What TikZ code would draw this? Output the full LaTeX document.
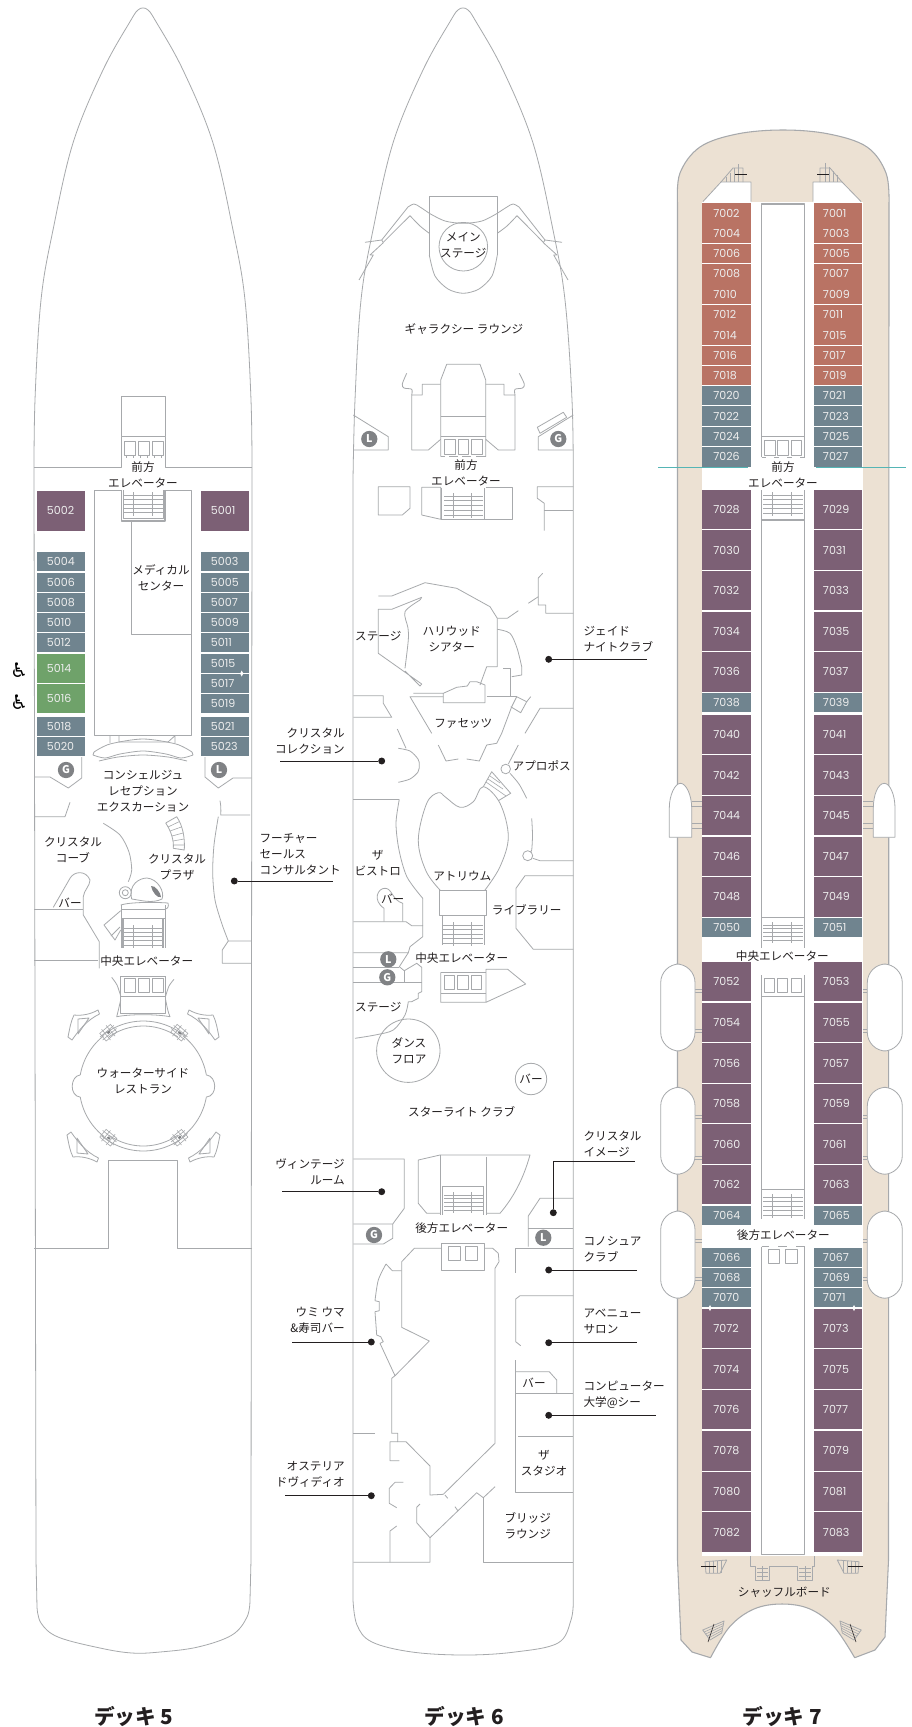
\documentclass[tikz,border=0pt]{standalone}
\usepackage{fontspec}
\setmainfont{Noto Sans CJK JP}
\newfontfamily\numf{Poppins}
\newfontfamily\dvf{DejaVu Sans}
\usetikzlibrary{calc}
\definecolor{wallg}{HTML}{A7A9AC}
\definecolor{ink}{HTML}{231F20}
\definecolor{cpurple}{HTML}{7C6075}
\definecolor{cblue}{HTML}{70848F}
\definecolor{cred}{HTML}{B97364}
\definecolor{cgreen}{HTML}{6FA26A}
\definecolor{beige}{HTML}{ECE1D3}
\definecolor{teal7}{HTML}{55B5B5}
\definecolor{iconm}{HTML}{808285}
\definecolor{cabtxt}{HTML}{EDEDED}
\tikzset{
 wall/.style={draw=wallg,line width=.6pt,line join=round},
 wallk/.style={draw=wallg,line width=1pt,line join=round},
 thinw/.style={draw=wallg,line width=.45pt},
 lab/.style={font=\fontsize{8.7}{12}\selectfont,text=ink,align=center,inner sep=0pt},
 labl/.style={lab,anchor=west,align=left},
 labr/.style={lab,anchor=east,align=right},
 ttl/.style={font=\fontsize{15.5}{18}\selectfont\bfseries,text=ink,inner sep=0pt},
 cabn/.style={font=\fontsize{8.3}{10}\numf\selectfont,text=cabtxt,anchor=west,inner sep=0pt},
 dotn/.style={circle,fill=ink,minimum size=5.2pt,inner sep=0pt},
 leader/.style={draw=ink,line width=.7pt},
 iconc/.style={circle,fill=iconm,minimum size=12.2pt,inner sep=0pt,text=white,font=\fontsize{8}{8}\selectfont\bfseries},
}
% cabin: number, x1, x2, y1, y2, colour, inner edge x, notch position, notch direction
\newcommand{\cabin}[9]{%
 \fill[#6] (#2,#4) rectangle (#3,#5);
 \ifx#8t\fill[white] (#7,#4) rectangle ({#7+(#9)*2.2},{#4+7});\fi
 \ifx#8b\fill[white] (#7,{#5-7}) rectangle ({#7+(#9)*2.2},#5);\fi
 \ifx#8c\fill[white] (#7,{(#4+#5)/2-4.5}) rectangle ({#7+(#9)*2.2},{(#4+#5)/2+4.5});\fi
}
\newcommand{\stairset}[6]{% xl xr y1 y2 vx1 vx2
 \foreach \i in {0,...,4}{\draw[thinw] (#1,{#3+\i*(#4-#3)/4}) -- (#2,{#3+\i*(#4-#3)/4});}
 \draw[wall] (#5,{#3-3}) -- (#5,{#4+3});
 \draw[wall] (#6,{#3-3}) -- (#6,{#4+3});
}
\newcommand{\triarm}{%
 \draw[wall] (0,0) .. controls (8,1) and (17,-1) .. (24,-5) -- (25.5,-1) .. controls (13,5) and (5,15) .. (-2,25) -- (-6,22) .. controls (-4,12) and (-3,6) .. (0,0) -- cycle;
 \draw[wall] (4,4) -- (15,3) -- (4,19) -- cycle;
}
\newcommand{\rstair}[3]{%
 \begin{scope}[shift={(#1,#2)},rotate=#3]
 \draw[thinw] (-7,-5) rectangle (7,5);
 \draw[thinw] (-9,-2) -- (9,-2) (-9,2) -- (9,2) (-3,-7) -- (-3,7) (3,-7) -- (3,7);
 \fill[iconm] (-1,-1) rectangle (2,1);
 \end{scope}
}
\newcommand{\tender}[4]{\draw[wall,fill=white,rounded corners=14pt] (#1,#3) rectangle (#2,#4);}
\begin{document}
\begin{tikzpicture}[x=.75pt,y=-.75pt]
\useasboundingbox (0,0) rectangle (912,1727);
\fill[white] (0,0) rectangle (912,1727);

%%%%%%% DECK 5 hull
\draw[wall] plot[smooth,tension=.6] coordinates{(34,480)(35,400)(41,300)(53,230)(73,143)(103,70)(131,20)(138,10)(143,8)(148,10)(155,20)(183,70)(213,143)(233,230)(245,300)(251,400)(252,480)}
 -- (251,1560) -- plot[smooth,tension=.6] coordinates{(250,1600)(247,1617)(232,1635)(198,1647)(160,1652)(132,1653)(100,1648)(58,1637)(41,1623)(37,1607)}
 -- (36,1560) -- cycle;
% fore
\draw[wall] (121.7,396) rectangle (165,436.7);
\draw[wall] (121.7,436.7) -- (121.7,458) (165,436.7) -- (165,458);
\foreach \x in {124,138,152}{\draw[wall] (\x,441) rectangle ++(11,14.7);\draw[wall] (\x+2,455.7) -- ++(0,2.5) (\x+9,455.7) -- ++(0,2.5);}
\draw[wall] (34,467.7) -- (121.7,467.7) -- (121.7,458);
\draw[wall] (252,467.7) -- (165,467.7) -- (165,458);
\draw[wall] (94.3,735.7) -- (94.3,490.3) -- (191.7,490.3) -- (191.7,735.7) -- cycle;
\fill[white] (121,490) rectangle (166,521);
\draw[wallk] (121.7,490.3) -- (121.7,521) -- (165,521) -- (165,490.3);
\draw[wall] (123.5,490.3) -- (123.5,518.5) -- (163.2,518.5) -- (163.2,490.3);
\stairset{124}{163}{495}{512.7}{133.3}{152}
\draw[wall] (131.7,521) -- (131.7,634.3) -- (191.7,634.3);
% concierge
\draw[wall] (110,735.7) -- (110,743) (119,735.7) -- (119,742) -- (168,742) -- (175,735.7) (175,735.7) -- (175,743);
\draw[wall] plot[smooth] coordinates{(94,752)(110,744)(143,739)(176,744)(192,752)};
\draw[wall] plot[smooth] coordinates{(93,755)(105,758)(120,754)(143,751)(166,754)(181,758)(193,755)};
\draw[wall] plot[smooth] coordinates{(99,761)(118,757)(143,755)(168,757)(187,761)};
\draw[wall] (93,755) -- (94,752) (193,755) -- (192,752);
% pockets
\draw[wall] (81.7,757) -- (81.7,778) -- (68.3,788) -- (50,777) -- (34,777);
\draw[wall] (205,757) -- (205,777) -- (218.3,788) -- (233,778) -- (251.7,778);
\node[iconc] (g5) at (66,770) {G};
\node[iconc] (l5) at (219,770) {L};
\draw[wall] (34,816.7) -- (65,816.7) -- (70,802.3);
\draw[wall] (220,800.7) .. controls (221,806) and (221,810) .. (220.7,815) -- (250,815);
\draw[wall] plot[smooth] coordinates{(103.3,823.3)(120,835)(129,852)(131.7,870)(128.3,881.7)};
% spiral stairs
\draw[wall] (165.7,823) -- (176.7,816.7) .. controls (183,826) and (185,838) .. (184.3,850) -- (173.3,848.3) .. controls (174,840) and (171,831) .. (165.7,823);
\draw[thinw] (168,827) -- (179.5,821.5) (170,831) -- (181.3,827) (172,836) -- (183,833) (173,841) -- (184,839) (173.5,845) -- (184.3,845);
% bar 5
\draw[wall] (53.3,907.3) -- (70,878.3) .. controls (74,871) and (86,870) .. (90,880) .. controls (90,886) and (84,890) .. (83.3,896.7) -- (83.3,915) -- (99.3,941.7) -- (99.3,968.3);
\draw[wall] (34,909.3) -- (83.3,909.3);
\draw[wall] (34,960.7) -- (98.3,960.7);
% atrium capsule
\draw[wall] (131.7,899) .. controls (128,884) and (140,878) .. (147,878) .. controls (158,879) and (165,892) .. (162,899) .. controls (152,904) and (140,900) .. (131.7,899);
\fill[iconm] (151,886) .. controls (155,885) and (161,893) .. (161,897) .. controls (158,899) and (152,892) .. (151,886);
\draw[wall] (125.3,892.7) circle[radius=6];
\draw[wall] (125.3,892.7) circle[radius=3];
\draw[wall] (120.7,905) .. controls (130,902) and (155,902) .. (168,903) .. controls (169,906) and (168,909) .. (165,909);
\draw[wall] (121,909) -- (165,909);
\draw[wall] (121,905) -- (121,918.3) (165,905) -- (165,918.3);
\draw[wallk] (121,918.3) -- (165,918.3);
\draw[wallk] (123,918.3) -- (123,948.3) (163,918.3) -- (163,948.3);
\draw[wall] (121,918.3) -- (121,948.3) (165,918.3) -- (165,948.3);
\stairset{124}{162}{928}{945}{133.3}{152.3}
\draw[wall] (120.7,910.7) -- (104,925) -- (115,940) -- (120.7,930);
\draw[wall] (111,936) -- (120,927);
% lower lifts deck 5
\draw[wall] (120.7,976) -- (165.7,976) (120.7,976) -- (120.7,1013.3) -- (165.7,1013.3) -- (165.7,976);
\foreach \x in {124,138,152}{\draw[wall] (\x,978.3) rectangle ++(11,14.4);}
\draw[wallk] (120.7,996.7) -- (165.7,996.7);
\draw[wall] plot[smooth] coordinates{(111.7,977.3)(117,985)(120.7,996)};
\draw[wall] plot[smooth] coordinates{(174,979.3)(169,986)(165.7,996)};
\draw[wall] (120.7,1000) .. controls (119,1007) and (118,1012) .. (116.7,1016.7) .. controls (130,1014) and (156,1014) .. (170,1016.7) .. controls (168,1012) and (167,1007) .. (165.7,1000);
% future sales
\draw[wall] plot[smooth] coordinates{(218.3,816.7)(214,845)(212.7,873.3)(215,900)(221.7,923.3)(228.3,941)};
\draw[wall] (251.7,941) -- (228.3,941) -- (222.3,950) -- (222.3,963.3) -- (251.7,963.3);
% restaurant
\newcommand{\arcp}[5]{plot[smooth,samples=24,domain=#4:#5] ({#1+#3*cos(\x)},{#2-#3*sin(\x)})}
\draw[wall] \arcp{143.3}{1086}{65}{130}{50};
\draw[wall] \arcp{143.3}{1086}{60}{125}{55};
\draw[wall] \arcp{143.3}{1086}{65}{230}{310};
\draw[wall] \arcp{143.3}{1086}{60}{235}{305};
\draw[wall] \arcp{143.3}{1086}{64}{128}{170};
\draw[wall] \arcp{143.3}{1086}{64}{190}{232};
\draw[wall] \arcp{143.3}{1086}{64}{52}{10};
\draw[wall] \arcp{143.3}{1086}{64}{-10}{-52};
\draw[wall] (80.3,1074.9) .. controls (70,1076) and (69,1096) .. (80.3,1097.1);
\draw[wall] (206.3,1074.9) .. controls (217,1076) and (218,1096) .. (206.3,1097.1);
\rstair{108.3}{1032.7}{40}
\rstair{179.3}{1032.7}{-40}
\rstair{108.3}{1137.7}{-40}
\rstair{179.3}{1137.7}{40}
\begin{scope}[shift={(74,1015)}]\triarm\end{scope}
\begin{scope}[shift={(213,1015)},xscale=-1]\triarm\end{scope}
\begin{scope}[shift={(73,1157)},yscale=-1]\triarm\end{scope}
\begin{scope}[shift={(214,1157)},xscale=-1,yscale=-1]\triarm\end{scope}
\draw[wall] (34,1248.3) -- (108.3,1248.3) -- (108.3,1160) -- (177.3,1160) -- (177.3,1248.3) -- (252,1248.3);

% deck 5 cabins
\foreach \n/\a/\b/\c/\p in {5002/491/530.7/cpurple/c,5004/552.3/571.3/cblue/t,5006/572.7/591.7/cblue/b,5008/592.7/611.7/cblue/t,5010/612.7/632.3/cblue/b,5012/633/652.3/cblue/t,5014/654/682.7/cgreen/t,5016/684/712.7/cgreen/n,5018/716.7/736/cblue/t,5020/737/756/cblue/b}{
 \cabin{\n}{37}{85}{\a}{\b}{\c}{85}{\p}{-1}
 \node[cabn] (c\n) at (46.7,{(\a+\b)/2}) {\n};}
\foreach \n/\a/\b/\c/\p in {5001/491/530.7/cpurple/c,5003/552.3/571.3/cblue/t,5005/572.7/591.7/cblue/b,5007/592.7/611.7/cblue/t,5009/612.7/632.3/cblue/b,5011/633/652.3/cblue/n,5015/654/673.3/cblue/t,5017/674/693.3/cblue/n,5019/694.3/713.3/cblue/n,5021/716.7/736/cblue/n,5023/737/756/cblue/n}{
 \cabin{\n}{201}{249.3}{\a}{\b}{\c}{201}{\p}{1}
 \node[cabn] (c\n) at (210.7,{(\a+\b)/2}) {\n};}
\fill[white] (241.7,670.5) -- (243.3,673.5) -- (241.7,676.5) -- (240.1,673.5) -- cycle;
\node[font=\fontsize{15}{15}\dvf\selectfont,text=black,inner sep=0pt] (w1) at (19,670) {♿};
\node[font=\fontsize{15}{15}\dvf\selectfont,text=black,inner sep=0pt] (w2) at (19,702) {♿};

% deck 5 labels
\node[lab] (a1) at (143,475) {前方\\エレベーター};
\node[lab] (a2) at (161,578) {メディカル\\センター};
\node[lab] (a3) at (143,791) {コンシェルジュ\\レセプション\\エクスカーション};
\node[lab] (a4) at (73,849.5) {クリスタル\\コーブ};
\node[lab] (a5) at (177,867) {クリスタル\\プラザ};
\node[lab] (a6) at (70,902.7) {バー};
\node[lab] (a7) at (146.7,961) {中央エレベーター};
\node[lab] (a8) at (143,1081) {ウォーターサイド\\レストラン};
\node[labl] (a9) at (259.3,854.3) {フーチャー\\セールス\\コンサルタント};
\node[dotn] (d1) at (234.3,881) {};
\coordinate (e1) at (333.3,881);
\draw[leader] (d1) -- (e1);

%%%%%%% DECK 6 hull
\draw[wall] plot[smooth,tension=.6] coordinates{(353,480)(355,400)(361,300)(373,230)(393,143)(423,70)(451,20)(458,10)(463,8)(468,10)(475,20)(503,70)(533,143)(553,230)(565,300)(572,400)(573.3,480)}
 -- plot[smooth,tension=.6] coordinates{(573.3,1600)(571,1620)(558,1643)(515,1652)(465,1655)(412,1652)(372,1642)(357,1625)(353,1600)} -- cycle;
% main stage
\draw[wall] (429.3,255) -- (429.3,196) -- (497.3,196) -- (497.3,255);
\draw[wall] plot[smooth] coordinates{(429.3,255)(435,276)(448,289)(463.3,293.3)(479,289)(492,276)(497.3,255)};
\draw[wall] plot[smooth] coordinates{(429.3,213.3)(445,221)(463.3,223.3)(482,221)(497.3,213.3)};
\draw[wall] (463.3,246.7) circle[radius=24.3];
\draw[wall] plot[smooth] coordinates{(429.3,213.3)(420,207)(414,204)(408,207)} -- (381.7,240) -- (365,242.3);
\draw[wall] (381.7,240) -- (383.3,242.7) -- (370,255) -- (373.3,255) -- (359,280);
\draw[wall] plot[smooth] coordinates{(429.3,233.3)(420,226)(410,215.7)} -- (383.3,242.3);
\draw[wall] plot[smooth] coordinates{(497.3,213.3)(507,207)(513,204)(519,207)} -- (545,240) -- (562,242.3);
\draw[wall] (545,240) -- (543.3,242.7) -- (557,255) -- (553.7,255) -- (568,280);
\draw[wall] plot[smooth] coordinates{(497.3,233.3)(507,226)(517,215.7)} -- (543.3,242.3);
% fore block 6
\draw[wall] (440.7,456.7) -- (440.7,380) -- (446.7,364.3) -- (480,364.3) -- (485.7,380) -- (485.7,456.7);
\draw[wall] (440.7,416.7) -- (485.7,416.7);
\draw[wall] (440.7,436.7) -- (485.7,436.7);
\foreach \x in {444.3,458,471.5}{\draw[wall] (\x,439.3) rectangle ++(10.7,14.7);}
\draw[wall] (440.7,456.7) -- (445,456.7) (449,456.7) -- (458,456.7) (462,456.7) -- (471,456.7) (476,456.7) -- (485.7,456.7);
\draw[wall] (440.7,384.3) -- (422.3,384.3) -- (422.3,395) -- (411.7,395) -- (411.7,450) -- (428.3,450) -- (440.7,439.3);
\draw[wall] plot[smooth] coordinates{(411.7,395)(411.7,389.3)(404,388)(402.3,384)(406.7,373.3)};
\draw[wall] (485.7,384.3) -- (504,384.3) -- (504,395) -- (515,395) -- (515,450) -- (498.3,450) -- (485.7,439.3);
\draw[wall] plot[smooth] coordinates{(515,395)(515,389.3)(522.5,388)(524.3,384)(519.3,373.3)};
\draw[wall] (353.3,415) -- (388.3,436.7) -- (388.3,450) -- (353.3,450);
\draw[wall] (573.3,415) -- (538.3,436.7) -- (538.3,450) -- (573.3,450);
\draw[wall] (537.3,427.3) -- (563.3,412.3) -- (566.7,417.3) -- (540,433.3) -- cycle;
\node[iconc] (l6a) at (369.3,439) {L};
\node[iconc] (g6a) at (558.3,439) {G};
% fore stairs 6
\draw[wall] (421.7,487.3) -- (440.7,487.3) -- (440.7,519.3) -- (421.7,515) -- cycle;
\draw[wall] (485.7,487.3) -- (512.7,487.3) -- (512.7,519.3) -- (485.7,519.3);
\draw[wallk] (440.7,519.3) -- (485.7,519.3);
\draw[wall] (441.7,488.3) -- (441.7,519) (484.7,488.3) -- (484.7,519);
\stairset{444}{483}{496}{515}{453.3}{471.7}
\draw[wall] (378.3,486.7) -- (410,486.7) -- (410,508.3) -- (402.3,515) -- (378.3,515) -- cycle;
\draw[wall] (573.3,486.7) -- (537.3,486.7) -- (537.3,498.3) -- (544.3,503.3) -- (544.3,530.7);
\draw[wall] (544.3,510.7) -- (573.3,510.7);
% theater
\draw[wall] (378.3,596) -- (391.7,596) -- (425,582.7) -- (456.7,588.3) -- (490,606.7) -- (497.3,618.3) -- (497.3,666.7) -- (486.7,666.7) -- (480,685);
\draw[wall] (421.7,597.3) -- (391.7,609.3) -- (378.3,609.3) -- (378.3,653.3) -- (421.7,684) -- (420,686) -- (405,671);
\draw[wall] (421.7,597.3) -- (420,600);
\draw[wall] plot[smooth] coordinates{(420,600)(405,611.7)(408,628)(408.3,640)(405,668.3)};
\draw[wall] (497.3,618.3) -- (507.3,618.3) -- (518.3,610.7);
\draw[wall] (528.3,603.3) -- (538.3,596.7);
\draw[wall] (542.7,573.3) -- (538.3,578) -- (538.3,605) -- (545.7,605) -- (545.7,613.3) -- (573.3,613.3);
\draw[wall] plot[smooth] coordinates{(497.3,629.3)(510,633.3)(517,648)(521.7,666.7)} -- (521.7,675) -- (511.7,676.7);
\draw[wall] (503.3,668.3) -- (510.7,668.3) -- (510.7,696.7);
\draw[wall] (486.7,696.7) -- (516.7,696.7);
\draw[wall] (413.3,693.3) -- (443.3,693.3) -- (456.7,687.3) -- (467.3,686) -- (470,681.7) -- (476.7,681.7) -- (485,685) -- (485,702.7) -- (443.3,702.7) -- (443.3,693.3);
\draw[wall] (443.3,696.7) -- (410,696.7) -- (431.7,733.3);
\draw[wall] (438.3,745) -- (446,761) -- (458.3,759);
\draw[wall] (466.7,759) -- (479.3,761) -- (486.7,745) -- (496.7,743.3) -- (501.7,733.3) -- (511.7,706.7) -- (516.7,696.7);
\draw[wall] (516.7,696.7) -- (526.7,701.7) -- (520.7,712.7) -- (510.7,706.7);
\draw[wall] (526.7,701.7) -- (530.7,696.7);
\draw[wall] (573.3,708.3) -- (540,708.3) -- (525,733.3);
\draw[wall] (353.3,695.7) -- (383.3,695.7) -- (383.3,703.3) -- (391.7,717.3) -- (353.3,717.3);
\draw[wall] (397.3,729) -- (406,748.3);
\draw[wall] plot[smooth] coordinates{(398.3,748.3)(410,751)(418,759)(419.3,765)(418,772)(410,779)(398.3,782.3)};
\draw[wall] (518.3,745) -- (508.3,764);
\draw[wall] (505.7,769) circle[radius=4.8];
\draw[wall] plot[smooth] coordinates{(510,773.3)(519,784)(526.7,798.3)};
\draw[wall] plot[smooth] coordinates{(531.7,818.3)(532.5,835)(531.7,850)(530,852)};
\draw[wall] (527.7,855.7) circle[radius=5];
\draw[wall] (532.7,858.3) -- (540,860.7) -- (573.3,860.7);
% atrium
\draw[wall] plot[smooth,tension=.6] coordinates{(440,890)(426,871)(418.3,840)(426.7,803.3)(438.3,792.7)(445.7,797.3)(460,807.3)(473.3,801.7)(483.3,786.7)(500,803.3)(508.3,836.7)(500,866.7)(485,890)};
\draw[wall] (483.3,786.7) -- (491.7,771.7) -- (510.7,793.3) -- (498.3,800.7);
\draw[thinw] (486,782) -- (506,796) (488,779) -- (503,789) (490,776) -- (500,783);
\draw[wall] (440,890) -- (485.5,890);
\draw[wall] (439.3,890) -- (439.3,915) -- (486,915) -- (486,890);
\draw[wall] (442,915) -- (442,945) (484,915) -- (484,945);
\stairset{443}{483}{925}{943}{453.3}{471.7}
% bistro
\draw[wall] (353.3,799.3) -- (399.3,799.3);
\draw[wall] plot[smooth] coordinates{(399.3,799.3)(396,823.3)(399,850)(407,877)(422.7,898.3)} -- (422.7,925.7) -- (411.7,925.7) -- (406,921.7) -- (353.3,921.7);
\draw[wall] (384,921.7) -- (384,908.3) .. controls (372,900) and (378,888) .. (385,888.3) .. controls (392,888) and (392,900) .. (402.7,903.3) -- (402.7,921.7);
\draw[wall] (422.7,925.7) -- (422.7,936.7) -- (410,946.7) -- (408.3,952.7) -- (353.3,952.7);
\draw[wall] (408.3,952.7) -- (399.3,966.7) -- (404.3,970.7) -- (416.7,963.3) -- (421.7,967.3) -- (421.7,991.7) -- (418.3,993.3) -- (418.3,998.3) -- (411.7,1001.7) -- (408.3,1001.7);
\draw[wall] (353.3,967.3) -- (399.3,967.3);
\draw[wall] (353.3,982.3) -- (421.7,982.3);
\draw[wall] (404.3,970.7) -- (404.3,982.3);
\node[iconc] (l6b) at (388.3,959.3) {L};
\node[iconc] (g6b) at (387.3,977.3) {G};
\draw[wall] plot[smooth] coordinates{(408.3,1001.7)(405,1015)(393.3,1030)(375,1035)(355,1038.3)};
\draw[wall] (408.3,1050.7) circle[radius=31.7];
\draw[wall] (531,1079) circle[radius=15.7];
% library
\draw[wall] (573.3,875.7) -- (525,875.7) -- (516,888.3) -- (516,928.3) -- (533.3,949.3) -- (573.3,949.3);
% centre lifts 6
\draw[wall] (440.7,972.3) -- (440.7,1002.3) -- (486,1002.3) -- (486,969.3) -- (507.7,969.3) -- (525.7,984) -- (486,1002.3);
\draw[wall] (440.7,972.3) -- (486,972.3);
\foreach \x in {444.3,457.7,471.3}{\draw[wall] (\x,975) rectangle ++(10.4,14.3);}
\draw[wall] (440.7,993.3) -- (486,993.3);
% aft stairs
\draw[wall] (440,1155) -- (530,1155) .. controls (523,1180) and (513,1198) .. (500,1213.3) -- (486.7,1213.3);
\draw[wall] (440,1155) -- (418.3,1160) -- (418.3,1203.3) -- (426.7,1213.3) -- (440,1213.3);
\draw[wall] (440,1155) -- (440,1215) (486.7,1156.7) -- (486.7,1215);
\draw[wall] (442,1186) -- (484,1186);
\draw[wall] (442.5,1186) -- (442.5,1215) (483.5,1186) -- (483.5,1215);
\stairset{444}{482.5}{1195}{1210}{453.3}{471.7}
% vintage
\draw[wall] (353.3,1159) -- (404.3,1159) -- (404.3,1208.3) -- (392.7,1224) -- (353.3,1224);
\draw[wall] (392.7,1224) -- (392.7,1238.3) -- (383.3,1244) -- (353.3,1244);
\node[iconc] (g6c) at (374,1235) {G};
% crystal image
\draw[wall] (573.3,1198.3) -- (540,1198.3) -- (528.3,1216) -- (528.3,1246.7);
\draw[wall] (528.3,1228.3) -- (573.3,1228.3);
\node[iconc] (l6c) at (543.3,1237.7) {L};
\draw[wall] (573.3,1248.3) -- (515.7,1248.3) -- (515.7,1273.3);
% aft block 6
\draw[wall] (441.7,1243.3) rectangle (484.3,1270.7);
\draw[wall] (448.3,1246) rectangle (460.7,1260) (465.7,1246) rectangle (477.7,1260);
\draw[wall] (441.7,1248.3) -- (414.3,1248.3) -- (401.7,1261.7) -- (401.7,1327.3) -- (429.3,1341) -- (395,1375.7);
\draw[wall] (401.7,1270.7) -- (392.3,1270.7) -- (386,1264);
\draw[wall] plot[smooth] coordinates{(386,1264)(378.3,1280)(375,1300.7)};
\draw[wall] (375,1300.7) -- (379.3,1301.7) -- (379.3,1310.7) -- (375,1311.7) -- (376.7,1335) -- (380.7,1336.7) -- (383.3,1341.7) -- (380,1343.3) -- (395,1375.7) -- (391.7,1378.3) -- (391.7,1433.3) -- (397.7,1433.3) -- (397.7,1441.7) -- (390,1441.7) -- (390,1460.7) -- (399.3,1460.7);
\draw[wall] (397.7,1441.7) -- (406,1441.7) -- (430,1466) -- (430,1495) -- (443.3,1494.3) -- (495,1443.3) -- (495,1268.3) -- (499,1261.7) -- (498.3,1253.3) -- (492.7,1248.3) -- (484.3,1248.3);
\draw[wall] (353.3,1433.3) -- (375,1433.3);
\draw[wall] (403.3,1482.3) -- (395,1482.3) -- (389.3,1488.3) -- (389.3,1503.3) -- (396.7,1507.7);
\draw[wall] (396.7,1526) -- (390,1531) -- (390,1562.3);
\draw[wall] (353.3,1562.3) -- (430,1562.3) -- (430,1537.7) -- (416.7,1522.7) -- (416.7,1507.3) -- (420,1504);
\draw[wall] (430,1537.7) -- (476.7,1492.7) -- (483.3,1497.7) -- (495,1486.7);
\draw[wall] (483.3,1497.7) -- (483.3,1562.3) -- (573.3,1562.3);
\draw[wall] (455,1506.7) -- (458,1511) (445,1495) -- (447.7,1498.3);
% right rooms aft
\draw[wall] (573.3,1295.7) -- (520,1295.7) -- (515.7,1299) -- (515.7,1341.7) -- (520.7,1345.7);
\draw[wall] (515.7,1360) -- (515.7,1492.3) -- (573.3,1492.3);
\draw[wall] (515.7,1371.7) -- (549.3,1371.7) -- (556.7,1380) -- (556.7,1393.3);
\draw[wall] (515.7,1393.3) -- (573.3,1393.3);
\draw[wall] (518.3,1436.7) -- (573.3,1436.7);

% deck 6 labels
\node[lab] (b1) at (463.3,245.3) {メイン\\ステージ};
\node[lab] (b2) at (464,329) {ギャラクシー ラウンジ};
\node[lab] (b3) at (466,473) {前方\\エレベーター};
\node[lab] (b4) at (378.3,636) {ステージ};
\node[lab] (b5) at (451.7,639) {ハリウッド\\シアター};
\node[lab] (b6) at (463.3,723.3) {ファセッツ};
\node[lab] (b7) at (541.7,765.7) {アプロポス};
\node[lab] (b8) at (377.7,863) {ザ\\ビストロ};
\node[lab] (b9) at (462.3,876) {アトリウム};
\node[lab] (b10) at (392.7,899) {バー};
\node[lab] (b11) at (526.7,910) {ライブラリー};
\node[lab] (b12) at (461.7,957.7) {中央エレベーター};
\node[lab] (b13) at (378.3,1007.3) {ステージ};
\node[lab] (b14) at (409,1050.5) {ダンス\\フロア};
\node[lab] (b15) at (531,1079) {バー};
\node[lab] (b16) at (461.7,1111.7) {スターライト クラブ};
\node[lab] (b17) at (461.7,1228.3) {後方エレベーター};
\node[lab] (b18) at (544,1463) {ザ\\スタジオ};
\node[lab] (b19) at (534,1383) {バー};
\node[lab] (b20) at (527.7,1526) {ブリッジ\\ラウンジ};
\node[labl] (b21) at (583.3,639) {ジェイド\\ナイトクラブ};
\node[labr] (b22) at (345,741.3) {クリスタル\\コレクション};
\node[labl] (b23) at (583.3,1144) {クリスタル\\イメージ};
\node[labr] (b24) at (345,1171.5) {ヴィンテージ\\ルーム};
\node[labl] (b25) at (583.3,1249.5) {コノシュア\\クラブ};
\node[labl] (b26) at (583.3,1322) {アベニュー\\サロン};
\node[labl] (b27) at (583.3,1394.5) {コンピューター\\大学@シー};
\node[labr] (b28) at (345,1320.3) {ウミ ウマ\\\&寿司バー};
\node[labr] (b29) at (345,1474.7) {オステリア\\ドヴィディオ};
% leaders
\node[dotn] (d2) at (548.7,659.3) {}; \coordinate (e2) at (647.3,659.3); \draw[leader] (d2) -- (e2);
\node[dotn] (d3) at (381.7,761) {}; \coordinate (e3) at (280,761); \draw[leader] (d3) -- (e3);
\node[dotn] (d4) at (553.3,1212.7) {}; \coordinate (e4) at (635,1161.7); \draw[leader] (d4) |- (e4);
\node[dotn] (d5) at (381.7,1191.7) {}; \coordinate (e5) at (282,1191.7); \draw[leader] (d5) -- (e5);
\node[dotn] (d6) at (548.7,1270) {}; \coordinate (e6) at (636.7,1270); \draw[leader] (d6) -- (e6);
\node[dotn] (d7) at (548.7,1342.7) {}; \coordinate (e7) at (636.7,1342.7); \draw[leader] (d7) -- (e7);
\node[dotn] (d8) at (548.7,1415.3) {}; \coordinate (e8) at (655.7,1415.3); \draw[leader] (d8) -- (e8);
\node[dotn] (d9) at (371.3,1342) {}; \coordinate (e9) at (291.7,1342); \draw[leader] (d9) -- (e9);
\node[dotn] (d10) at (371.3,1495.7) {}; \coordinate (e10) at (285,1495.7); \draw[leader] (d10) -- (e10);

%%%%%%% DECK 7
\draw[wall,fill=beige,line width=.8pt] (677.5,1560)
 -- plot[smooth,tension=.6] coordinates{(677.5,203)(680,173)(700,147)(737,134)(783,130)(829,134)(867,147)(886,173)(889,203)}
 -- (888.5,1560) -- (885,1637) -- (875,1650) -- (854.7,1657.7)
 -- plot[smooth,tension=.6] coordinates{(854.7,1657.7)(834,1626.7)(810,1609)(782,1604)(754,1609)(729.7,1626.7)(710.5,1657.7)}
 -- (692,1652) -- (681,1640) -- cycle;
\fill[white] (701.7,202) rectangle (862.7,1556);
% top stairs
\fill[white] (703,202) -- (721,182) -- (751,182) -- (751,202) -- cycle;
\draw[wall] (703,201.5) -- (721,182) -- (751,182) -- (751,201.5);
\draw[wall] (721,182) -- (733,168) -- (743,168) -- (743,182);
\foreach \x in {726,730,734,738}{\draw[thinw] (\x,{182-(\x-721)*1.05}) -- (\x,182);}
\draw[draw=ink,line width=.4pt] (735,174) -- (747,174);
\fill[white] (861,202) -- (842,182) -- (813,182) -- (813,202) -- cycle;
\draw[wall] (861,201.5) -- (842,182) -- (813,182) -- (813,201.5);
\draw[wall] (842,182) -- (830,168) -- (820,168) -- (820,182);
\foreach \x in {825,829,833,837}{\draw[thinw] (\x,{168+(\x-830)*1.05}) -- (\x,182);}
\draw[draw=ink,line width=.4pt] (817,174) -- (829,174);
% corridor
\draw[wallk] (761.5,457.3) -- (761.5,204) -- (804.5,204) -- (804.5,457.3);
\draw[wall] (761.5,436.7) -- (804.5,436.7);
\foreach \x in {764.3,777.7,791}{\draw[wall] (\x,440.7) rectangle ++(10.7,14.3);}
\draw[wall] (761.5,457.3) -- (766,457.3) (774,457.3) -- (779,457.3) (787,457.3) -- (792,457.3) (800,457.3) -- (804.5,457.3);
\draw[wallk] (761.5,490) -- (761.5,948.3) (804.5,490) -- (804.5,948.3);
\draw[wallk] (761.5,520) -- (804.5,520);
\stairset{763}{803}{495}{513}{772.7}{791}
\draw[wallk] (761.5,917.7) -- (804.5,917.7);
\stairset{763}{803}{925}{940}{772.7}{791}
\draw[wallk] (761.5,975) -- (761.5,1219.3) (804.5,975) -- (804.5,1219.3);
\foreach \x in {764,777.3,791.2}{\draw[wall] (\x,978.3) rectangle ++(10.3,14);}
\draw[wall] (761.5,996) -- (804.5,996);
\draw[wallk] (761.5,1189.3) -- (804.5,1189.3);
\stairset{763}{803}{1197}{1215}{772.7}{791}
\draw[wallk] (761.5,1246.7) -- (761.5,1554.3) -- (804.5,1554.3) -- (804.5,1246.7);
\draw[wall] (761.5,1246.7) -- (769,1246.7) (778,1246.7) -- (787,1246.7) (796,1246.7) -- (804.5,1246.7);
\draw[wall] (768.3,1249.3) rectangle (779.3,1263.3) (785.7,1249.3) rectangle (797.7,1263.3);
% aft stairs deck 7
\draw[wall] (750.7,1556) -- (750.7,1566) -- (755,1566) -- (755,1580) -- (769.3,1580) -- (769.3,1566) -- (797.3,1566) -- (797.3,1580) -- (812.7,1580) -- (812.7,1566) -- (814.3,1566) -- (814.3,1556);
\foreach \y in {1568,1572,1576}{\draw[thinw] (757,\y) -- (767.5,\y) (799,\y) -- (811,\y);}
\draw[thinw] (762,1566) -- (762,1580) (805,1566) -- (805,1580);
\draw[wall] (705,1561.7) -- (726.7,1560) -- (720,1573.3) -- (706,1573.3) -- cycle;
\foreach \x in {709,713,717,721}{\draw[thinw] (\x,1561) -- (\x,1573);}
\draw[draw=ink,line width=.4pt] (701,1566.5) -- (716,1566.5);
\draw[wall] (859,1561.7) -- (837.3,1560) -- (844,1573.3) -- (858,1573.3) -- cycle;
\foreach \x in {855,851,847,843}{\draw[thinw] (\x,1561) -- (\x,1573);}
\draw[draw=ink,line width=.4pt] (863,1566.5) -- (848,1566.5);
\coordinate (pA) at (702.7,1630);\coordinate (pB) at (724,1621);\coordinate (pC) at (721.7,1633);\coordinate (pD) at (710,1640);
\draw[wall] (pA) -- (pB) -- (pC) -- (pD) -- cycle;
\foreach \t in {.2,.4,.6,.8}{\draw[thinw] ($(pA)!\t!(pD)$) -- ($(pB)!\t!(pC)$);}
\draw[draw=ink,line width=.4pt] (708,1642) -- (714,1624);
\coordinate (qA) at (861.3,1630);\coordinate (qB) at (840,1621);\coordinate (qC) at (842.3,1633);\coordinate (qD) at (854,1640);
\draw[wall] (qA) -- (qB) -- (qC) -- (qD) -- cycle;
\foreach \t in {.2,.4,.6,.8}{\draw[thinw] ($(qA)!\t!(qD)$) -- ($(qB)!\t!(qC)$);}
\draw[draw=ink,line width=.4pt] (856,1642) -- (850,1624);
% teal
\draw[teal7,line width=.7pt] (658.3,467.3) -- (748.3,467.3);
\draw[teal7,line width=.7pt] (816,467.3) -- (906,467.3);
% davits
\foreach \y in {801.7,806,823.3,828.3}{\draw[wall] (691.7,\y) -- (701.7,\y) (863,\y) -- (873.3,\y);}
\foreach \y in {989,992,1029,1032,1115,1118,1156,1159,1239,1242,1277,1280}{\draw[thinw] (695,\y) -- (701.7,\y) (863,\y) -- (867.3,\y);}
% lifeboats
\draw[wall,fill=white] (669.3,837.3) -- (691.7,837.3) -- (691.7,808) .. controls (691.7,795) and (686,783.3) .. (680.5,783.3) .. controls (675,783.3) and (669.3,795) .. (669.3,808) -- cycle;
\draw[wall,fill=white] (873.3,837.3) -- (895,837.3) -- (895,808) .. controls (895,795) and (890,783.3) .. (884.3,783.3) .. controls (878,783.3) and (873.3,795) .. (873.3,808) -- cycle;
\tender{660.7}{695}{964}{1051}
\tender{660.7}{695}{1087.3}{1174.3}
\tender{660.7}{695}{1211}{1298.3}
\tender{867.3}{902.3}{964}{1051}
\tender{867.3}{902.3}{1087.3}{1174.3}
\tender{867.3}{902.3}{1211}{1298.3}

% deck 7 cabins : left
\foreach \n/\a/\b/\c/\p in {7002/203.3/222.6/cred/b,7004/223.4/243/cred/t,7006/244/263.3/cred/b,7008/264/283.6/cred/t,7010/284.4/304/cred/b,7012/304.8/324.5/cred/t,7014/325.3/345/cred/b,7016/345.7/365/cred/t,7018/365.7/385/cred/b,7020/385.8/405.3/cblue/t,7022/406.2/425.7/cblue/b,7024/426.7/446/cblue/t,7026/446.8/466.7/cblue/b,
 7028/490/529/cpurple/c,7030/530.3/570/cpurple/c,7032/570.7/610/cpurple/c,7034/611.7/651/cpurple/c,7036/652/691.7/cpurple/c,7038/692.7/712.3/cblue/n,7040/714.7/754.3/cpurple/c,7042/755.3/795/cpurple/c,7044/796/835.3/cpurple/c,7046/836.7/876/cpurple/c,7048/877/916.7/cpurple/c,7050/917.7/937/cblue/b,
 7052/962/1001.3/cpurple/c,7054/1002.7/1042/cpurple/c,7056/1043.3/1082.7/cpurple/c,7058/1083.7/1123.3/cpurple/c,7060/1124.3/1163.7/cpurple/c,7062/1165/1204.3/cpurple/c,7064/1205.7/1225/cblue/b,7066/1247.7/1266.7/cblue/b,7068/1268/1287/cblue/t,7070/1288.3/1307.3/cblue/n,
 7072/1308.7/1348/cpurple/c,7074/1349.3/1388.7/cpurple/c,7076/1390/1429.3/cpurple/c,7078/1431/1470.7/cpurple/c,7080/1471.7/1511/cpurple/c,7082/1512.3/1552/cpurple/c}{
 \cabin{\n}{701.7}{750.5}{\a}{\b}{\c}{750.5}{\p}{-1}
 \node[cabn] (c\n) at (713,{(\a+\b)/2}) {\n};}
\foreach \n/\a/\b/\c/\p in {7001/203.3/222.6/cred/b,7003/223.4/243/cred/t,7005/244/263.3/cred/b,7007/264/283.6/cred/t,7009/284.4/304/cred/b,7011/304.8/324.5/cred/t,7015/325.3/345/cred/b,7017/345.7/365/cred/t,7019/365.7/385/cred/b,7021/385.8/405.3/cblue/t,7023/406.2/425.7/cblue/b,7025/426.7/446/cblue/t,7027/446.8/466.7/cblue/b,
 7029/490/529/cpurple/c,7031/530.3/570/cpurple/c,7033/570.7/610/cpurple/c,7035/611.7/651/cpurple/c,7037/652/691.7/cpurple/c,7039/692.7/712.3/cblue/n,7041/714.7/754.3/cpurple/c,7043/755.3/795/cpurple/c,7045/796/835.3/cpurple/c,7047/836.7/876/cpurple/c,7049/877/916.7/cpurple/c,7051/917.7/937/cblue/b,
 7053/962/1001.3/cpurple/c,7055/1002.7/1042/cpurple/c,7057/1043.3/1082.7/cpurple/c,7059/1083.7/1123.3/cpurple/c,7061/1124.3/1163.7/cpurple/c,7063/1165/1204.3/cpurple/c,7065/1205.7/1225/cblue/b,7067/1247.7/1266.7/cblue/b,7069/1268/1287/cblue/t,7071/1288.3/1307.3/cblue/n,
 7073/1308.7/1348/cpurple/c,7075/1349.3/1388.7/cpurple/c,7077/1390/1429.3/cpurple/c,7079/1431/1470.7/cpurple/c,7081/1471.7/1511/cpurple/c,7083/1512.3/1552/cpurple/c}{
 \cabin{\n}{813.5}{862.3}{\a}{\b}{\c}{813.5}{\p}{1}
 \node[cabn] (c\n) at (822.7,{(\a+\b)/2}) {\n};}
\fill[white] (710,1305) -- (711.6,1308) -- (710,1311) -- (708.4,1308) -- cycle;
\fill[white] (854,1305) -- (855.6,1308) -- (854,1311) -- (852.4,1308) -- cycle;
\node[lab] (s1) at (783,475) {前方\\エレベーター};
\node[lab] (s2) at (782.3,955.7) {中央エレベーター};
\node[lab] (s3) at (783.3,1235) {後方エレベーター};
\node[lab] (s4) at (784.3,1592.7) {シャッフルボード};
% titles
\node[ttl] (t5) at (133.7,1716) {デッキ 5};
\node[ttl] (t6) at (464,1716) {デッキ 6};
\node[ttl] (t7) at (782,1716) {デッキ 7};
\end{tikzpicture}
\end{document}
